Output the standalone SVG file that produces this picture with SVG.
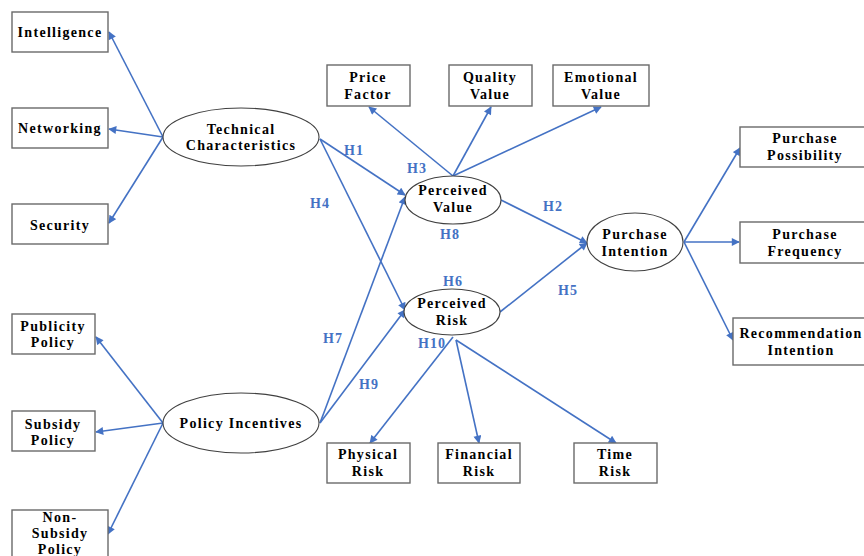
<svg xmlns="http://www.w3.org/2000/svg" width="864" height="556" viewBox="0 0 864 556">
<defs>
<marker id="ah" viewBox="0 0 10 10" refX="9" refY="5" markerWidth="9" markerHeight="8" markerUnits="userSpaceOnUse" orient="auto">
<path d="M0,0 L10,5 L0,10 Z" fill="#4472C4"/>
</marker>
<style>
.box{fill:#fff;stroke:#6a6a6a;stroke-width:1.4}
.ell{fill:#fff;stroke:#404040;stroke-width:1.1}
.t{font-family:"Liberation Serif","Times New Roman",serif;font-weight:bold;font-size:14px;letter-spacing:1.3px;fill:#000;text-anchor:middle;dominant-baseline:central}
.h{font-family:"Liberation Serif","Times New Roman",serif;font-weight:bold;font-size:14px;letter-spacing:1px;fill:#4472C4;text-anchor:middle;dominant-baseline:central}
.c{stroke:#4472C4;stroke-width:1.6;fill:none;marker-end:url(#ah)}
</style>
</defs>
<rect width="864" height="556" fill="#fff"/>
<g id="connectors">
<line class="c" x1="163" y1="137" x2="109" y2="32"/>
<line class="c" x1="163" y1="137" x2="109" y2="129"/>
<line class="c" x1="163" y1="137" x2="109" y2="223"/>
<line class="c" x1="163" y1="423" x2="96" y2="337"/>
<line class="c" x1="163" y1="423" x2="96" y2="432"/>
<line class="c" x1="163" y1="423" x2="108" y2="534"/>
<line class="c" x1="453" y1="176" x2="369" y2="107"/>
<line class="c" x1="453" y1="176" x2="491" y2="107"/>
<line class="c" x1="453" y1="176" x2="601" y2="107"/>
<line class="c" x1="320" y1="139" x2="405" y2="195"/>
<line class="c" x1="320" y1="139" x2="405" y2="310"/>
<line class="c" x1="320" y1="423" x2="405" y2="197"/>
<line class="c" x1="320" y1="423" x2="405" y2="310"/>
<line class="c" x1="501" y1="200" x2="587" y2="243"/>
<line class="c" x1="500" y1="312" x2="587" y2="243"/>
<line class="c" x1="684" y1="242" x2="740" y2="148"/>
<line class="c" x1="684" y1="242" x2="739" y2="242"/>
<line class="c" x1="684" y1="242" x2="733" y2="340"/>
<line class="c" x1="453" y1="337" x2="370" y2="443"/>
<line class="c" x1="456" y1="340" x2="479" y2="443"/>
<line class="c" x1="456" y1="340" x2="616" y2="443"/>
</g>
<g id="labels">
<text class="h" x="354" y="150">H1</text>
<text class="h" x="417" y="168">H3</text>
<text class="h" x="320" y="203">H4</text>
<text class="h" x="450" y="234">H8</text>
<text class="h" x="553" y="206">H2</text>
<text class="h" x="453" y="281">H6</text>
<text class="h" x="568" y="290">H5</text>
<text class="h" x="333" y="338">H7</text>
<text class="h" x="369" y="384">H9</text>
<text class="h" x="432" y="343">H10</text>
</g>
<g id="intelligence"><rect class="box" x="12" y="12" width="96" height="40"/><text class="t" x="60" y="32">Intelligence</text></g>
<g id="networking"><rect class="box" x="12" y="108" width="96" height="40"/><text class="t" x="60" y="128">Networking</text></g>
<g id="security"><rect class="box" x="12" y="204" width="96" height="40"/><text class="t" x="60" y="225">Security</text></g>
<g id="publicity"><rect class="box" x="12" y="314" width="83" height="40"/><text class="t" x="53" y="326">Publicity</text><text class="t" x="53" y="342">Policy</text></g>
<g id="subsidy"><rect class="box" x="12" y="411" width="83" height="40"/><text class="t" x="53" y="424">Subsidy</text><text class="t" x="53" y="440">Policy</text></g>
<g id="nonsubsidy"><rect class="box" x="12" y="510" width="96" height="50"/><text class="t" x="60" y="517">Non-</text><text class="t" x="60" y="533">Subsidy</text><text class="t" x="60" y="549">Policy</text></g>
<g id="technical"><ellipse class="ell" cx="241" cy="137" rx="78" ry="29"/><text class="t" x="241" y="129">Technical</text><text class="t" x="241" y="145">Characteristics</text></g>
<g id="policy"><ellipse class="ell" cx="241" cy="423" rx="78" ry="30"/><text class="t" x="241" y="423">Policy Incentives</text></g>
<g id="price"><rect class="box" x="327" y="65" width="83" height="41"/><text class="t" x="368" y="77">Price</text><text class="t" x="368" y="94">Factor</text></g>
<g id="quality"><rect class="box" x="449" y="65" width="83" height="41"/><text class="t" x="490" y="77">Quality</text><text class="t" x="490" y="94">Value</text></g>
<g id="emotional"><rect class="box" x="553" y="65" width="96" height="41"/><text class="t" x="601" y="77">Emotional</text><text class="t" x="601" y="94">Value</text></g>
<g id="pvalue"><ellipse class="ell" cx="453" cy="200" rx="48" ry="24"/><text class="t" x="453" y="190">Perceived</text><text class="t" x="453" y="207">Value</text></g>
<g id="prisk"><ellipse class="ell" cx="452" cy="312" rx="48" ry="23"/><text class="t" x="452" y="303">Perceived</text><text class="t" x="452" y="320">Risk</text></g>
<g id="pintention"><ellipse class="ell" cx="635" cy="242" rx="48" ry="29"/><text class="t" x="635" y="234">Purchase</text><text class="t" x="635" y="251">Intention</text></g>
<g id="possibility"><rect class="box" x="740" y="127" width="130" height="40"/><text class="t" x="805" y="138">Purchase</text><text class="t" x="805" y="155">Possibility</text></g>
<g id="frequency"><rect class="box" x="740" y="222" width="130" height="41"/><text class="t" x="805" y="234">Purchase</text><text class="t" x="805" y="251">Frequency</text></g>
<g id="recommendation"><rect class="box" x="733" y="318" width="137" height="47"/><text class="t" x="801" y="333">Recommendation</text><text class="t" x="801" y="350">Intention</text></g>
<g id="physical"><rect class="box" x="327" y="443" width="83" height="40"/><text class="t" x="368" y="454">Physical</text><text class="t" x="368" y="471">Risk</text></g>
<g id="financial"><rect class="box" x="438" y="443" width="82" height="40"/><text class="t" x="479" y="454">Financial</text><text class="t" x="479" y="471">Risk</text></g>
<g id="time"><rect class="box" x="574" y="443" width="83" height="40"/><text class="t" x="615" y="454">Time</text><text class="t" x="615" y="471">Risk</text></g>
</svg>
